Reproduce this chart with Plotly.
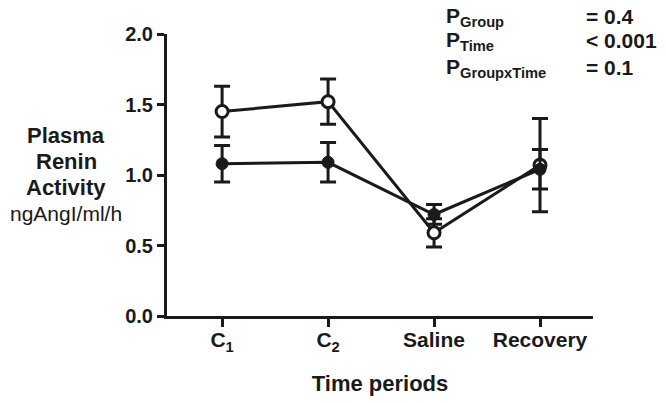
import plotly.graph_objects as go

categories = ["C<sub>1</sub>", "C<sub>2</sub>", "Saline", "Recovery"]
cat_pos = [0, 1, 2, 3]

open_mean = [1.45, 1.52, 0.59, 1.07]
open_err = [0.18, 0.16, 0.10, 0.33]

filled_mean = [1.08, 1.09, 0.72, 1.04]
filled_err = [0.13, 0.14, 0.07, 0.14]

y_ticks = [0.0, 0.5, 1.0, 1.5, 2.0]
y_tick_text = ["0.0", "0.5", "1.0", "1.5", "2.0"]

stats_labels = ["P<sub>Group</sub>", "P<sub>Time</sub>", "P<sub>GroupxTime</sub>"]
stats_values = ["= 0.4", "< 0.001", "= 0.1"]

y_title_lines = ["<b>Plasma</b>", "<b>Renin</b>", "<b>Activity</b>", "ngAngI/ml/h"]

FONT = "Liberation Sans, Arial, sans-serif"
BLACK = "#1a1a1a"

# page body adds an 8px offset; plot area is meant to span x 167..593, y 34..316 in the window
OFF = 8
PL, PR, PT, PB = 167, 593, 34, 316


def px_to_paper_y(ypx):
    return (PB - ypx) / (PB - PT)


def px_to_paper_x(xpx):
    return (xpx - PL) / (PR - PL)


fig = go.Figure()

fig.add_trace(go.Scatter(
    x=cat_pos, y=open_mean, mode="lines+markers",
    line=dict(color=BLACK, width=3),
    marker=dict(symbol="circle", size=12, color="white", line=dict(color=BLACK, width=3)),
    error_y=dict(type="data", array=open_err, visible=True, color=BLACK, thickness=3, width=8),
    showlegend=False,
))
fig.add_trace(go.Scatter(
    x=cat_pos, y=filled_mean, mode="lines+markers",
    line=dict(color=BLACK, width=3),
    marker=dict(symbol="circle", size=12, color=BLACK, line=dict(color=BLACK, width=1)),
    error_y=dict(type="data", array=filled_err, visible=True, color=BLACK, thickness=3, width=8),
    showlegend=False,
))

row_centers = [16.5, 41, 68]
for lab, val, yc in zip(stats_labels, stats_values, row_centers):
    fig.add_annotation(x=px_to_paper_x(445), y=px_to_paper_y(yc), xref="paper", yref="paper",
                       text="<b>" + lab + "</b>",
                       showarrow=False, xanchor="left", yanchor="middle", borderpad=0,
                       font=dict(family=FONT, size=21, color=BLACK))
    fig.add_annotation(x=px_to_paper_x(585), y=px_to_paper_y(yc), xref="paper", yref="paper",
                       text="<b>" + val + "</b>",
                       showarrow=False, xanchor="left", yanchor="middle", borderpad=0,
                       font=dict(family=FONT, size=21, color=BLACK))

for line, base, size in zip(y_title_lines, [142, 168, 194, 220], [22, 22, 22, 21]):
    fig.add_annotation(x=px_to_paper_x(66), y=px_to_paper_y(base - 7), xref="paper", yref="paper",
                       text=line, showarrow=False, xanchor="center", yanchor="middle",
                       font=dict(family=FONT, size=size, color=BLACK))

fig.update_layout(
    width=666, height=403,
    margin=dict(l=PL - OFF, r=666 - PR + OFF, t=PT - OFF, b=403 - PB + OFF),
    paper_bgcolor="white", plot_bgcolor="white",
    font=dict(family=FONT, color=BLACK),
)
fig.update_xaxes(
    range=[-0.52, 3.5], tickmode="array", tickvals=cat_pos,
    ticktext=["<b>" + c + "</b>" for c in categories],
    showgrid=False, zeroline=False, showline=True, linecolor=BLACK, linewidth=3,
    ticks="outside", ticklen=8, tickwidth=3, tickcolor=BLACK,
    tickfont=dict(family=FONT, size=21, color=BLACK),
    ticklabelstandoff=-5,
    title=dict(text="<b>Time periods</b>", font=dict(family=FONT, size=22, color=BLACK), standoff=22),
)
fig.update_yaxes(
    range=[0, 2.0], tickmode="array", tickvals=y_ticks,
    ticktext=["<b>" + t + "</b>" for t in y_tick_text],
    showgrid=False, zeroline=False, showline=True, linecolor=BLACK, linewidth=3,
    ticks="outside", ticklen=7, tickwidth=3, tickcolor=BLACK,
    tickfont=dict(family=FONT, size=20, color=BLACK),
)

fig.write_html("out.html")
